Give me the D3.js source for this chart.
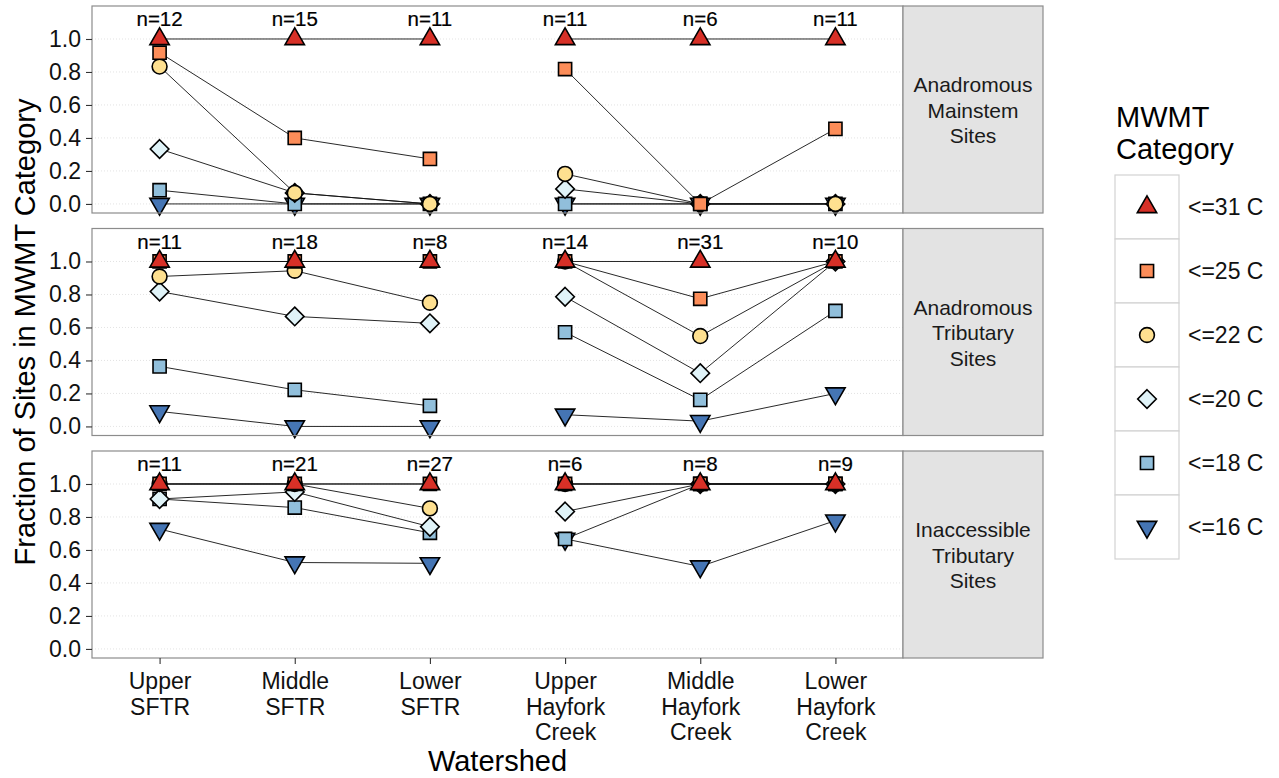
<!DOCTYPE html>
<html>
<head>
<meta charset="utf-8">
<script src="https://cdn.jsdelivr.net/npm/d3@7"></script>
<style>
  html, body { margin: 0; padding: 0; background: #fff; }
  svg { display: block; font-family: "Liberation Sans", Arial, Helvetica, sans-serif; }
</style>
</head>
<body>
<svg id="chart" width="1279" height="778"></svg>
<script>
// ---- data ----------------------------------------------------------------
const watersheds = ["Upper SFTR", "Middle SFTR", "Lower SFTR",
                    "Upper Hayfork Creek", "Middle Hayfork Creek", "Lower Hayfork Creek"];
const watershedLabels = [["Upper", "SFTR"], ["Middle", "SFTR"], ["Lower", "SFTR"],
                         ["Upper", "Hayfork", "Creek"], ["Middle", "Hayfork", "Creek"], ["Lower", "Hayfork", "Creek"]];
// watersheds joined by lines (river systems)
const riverGroups = [[0, 1, 2], [3, 4, 5]];

const categories = ["<=31 C", "<=25 C", "<=22 C", "<=20 C", "<=18 C", "<=16 C"];
const categoryColors = ["#D73027", "#FC8D59", "#FEE090", "#E0F3F8", "#91BFDB", "#4575B4"];
const categoryShapes = ["triangleUp", "square", "circle", "diamond", "square", "triangleDown"];

const panelNames = [["Anadromous", "Mainstem", "Sites"],
                    ["Anadromous", "Tributary", "Sites"],
                    ["Inaccessible", "Tributary", "Sites"]];

const yTicks = [0, 0.2, 0.4, 0.6, 0.8, 1.0];

// site counts per watershed
const mainstemN     = [12, 15, 11, 11, 6, 11];
const tributaryN    = [11, 18, 8, 14, 31, 10];
const inaccessibleN = [11, 21, 27, 6, 8, 9];

// fraction of sites in each MWMT category (rows follow `categories`)
const mainstemFractions = [
  [1, 1, 1, 1, 1, 1],
  [0.917, 0.400, 0.273, 0.818, 0, 0.455],
  [0.833, 0.067, 0, 0.182, 0, 0],
  [0.333, 0.067, 0, 0.091, 0, 0],
  [0.083, 0, 0, 0, 0, 0],
  [0, 0, 0, 0, 0, 0]
];
const tributaryFractions = [
  [1, 1, 1, 1, 1, 1],
  [1, 1, 1, 1, 0.774, 1],
  [0.909, 0.944, 0.750, 1, 0.548, 1],
  [0.818, 0.667, 0.625, 0.786, 0.323, 1],
  [0.364, 0.222, 0.125, 0.571, 0.161, 0.700],
  [0.091, 0, 0, 0.071, 0.032, 0.200]
];
const inaccessibleFractions = [
  [1, 1, 1, 1, 1, 1],
  [1, 1, 1, 1, 1, 1],
  [1, 1, 0.852, 1, 1, 1],
  [0.909, 0.952, 0.741, 0.833, 1, 1],
  [0.909, 0.857, 0.704, 0.667, 1, 1],
  [0.727, 0.524, 0.519, 0.667, 0.500, 0.778]
];

const panelFractions = [mainstemFractions, tributaryFractions, inaccessibleFractions];
const panelCounts = [mainstemN, tributaryN, inaccessibleN];
const countLabelLevel = 1.12;

// ---- layout --------------------------------------------------------------
const svg = d3.select("#chart");
const plotLeft = 92, plotRight = 903, stripRight = 1043;
const panelH = 207, panelStep = 222.5, firstTop = 6;
const borderColor = "#8c8c8c";
const font = "'Liberation Sans', Arial, Helvetica, sans-serif";

const x = d3.scalePoint().domain(watersheds).range([plotLeft, plotRight]).padding(0.5);

// marker geometry (R-style symbol proportions)
const R = 7.2;
function symbolPath(shape, cx, cy) {
  switch (shape) {
    case "circle": {
      const r = R * 1.03;
      return `M${cx - r},${cy}a${r},${r} 0 1,0 ${2 * r},0a${r},${r} 0 1,0 ${-2 * r},0Z`;
    }
    case "square": {
      const h = R * 0.886 * 1.03;
      return `M${cx - h},${cy - h}H${cx + h}V${cy + h}H${cx - h}Z`;
    }
    case "diamond": {
      const h = R * 1.253 * 1.03;
      return `M${cx},${cy - h}L${cx + h},${cy}L${cx},${cy + h}L${cx - h},${cy}Z`;
    }
    case "triangleUp": {
      const r = R * 1.555;
      const xc = r * Math.sqrt(3) / 2, yc = r / 2;
      return `M${cx},${cy - r}L${cx + xc},${cy + yc}L${cx - xc},${cy + yc}Z`;
    }
    case "triangleDown": {
      const r = R * 1.555;
      const xc = r * Math.sqrt(3) / 2, yc = r / 2;
      return `M${cx},${cy + r}L${cx + xc},${cy - yc}L${cx - xc},${cy - yc}Z`;
    }
  }
}

panelFractions.forEach((fractions, p) => {
  const top = firstTop + p * panelStep;
  const y = d3.scaleLinear().domain([-0.055, 1.2]).range([top + panelH, top]);
  const g = svg.append("g");

  // panel background
  g.append("rect").attr("x", plotLeft).attr("y", top)
    .attr("width", plotRight - plotLeft).attr("height", panelH).attr("fill", "#fff");

  // gridlines
  g.append("g").selectAll("line").data(yTicks).join("line")
    .attr("x1", plotLeft).attr("x2", plotRight)
    .attr("y1", d => y(d)).attr("y2", d => y(d))
    .attr("stroke", "#dcdcdc").attr("stroke-width", 0.8).attr("stroke-dasharray", "1,2");

  // connecting lines within each river system
  const line = d3.line().x(d => x(watersheds[d.i])).y(d => y(d.v));
  fractions.forEach((row, c) => {
    riverGroups.forEach(grp => {
      g.append("path")
        .attr("d", line(grp.map(i => ({ i, v: row[i] }))))
        .attr("fill", "none").attr("stroke", "#111").attr("stroke-width", 0.9);
    });
  });

  // points: warmest category drawn last
  for (let c = categories.length - 1; c >= 0; c--) {
    g.append("g").selectAll("path").data(fractions[c]).join("path")
      .attr("d", (v, i) => symbolPath(categoryShapes[c], x(watersheds[i]), y(v)))
      .attr("fill", categoryColors[c]).attr("stroke", "#000").attr("stroke-width", 1.6)
      .attr("stroke-linejoin", "miter");
  }

  // site counts
  g.append("g").selectAll("text").data(panelCounts[p]).join("text")
    .attr("x", (d, i) => x(watersheds[i])).attr("y", y(countLabelLevel)).attr("dy", "0.35em")
    .attr("text-anchor", "middle").attr("font-size", 20.5).attr("fill", "#000")
    .attr("stroke", "#000").attr("stroke-width", 0.2)
    .text(d => "n=" + d);

  // panel border
  g.append("rect").attr("x", plotLeft).attr("y", top)
    .attr("width", plotRight - plotLeft).attr("height", panelH)
    .attr("fill", "none").attr("stroke", borderColor).attr("stroke-width", 1.2);

  // strip
  g.append("rect").attr("x", plotRight).attr("y", top)
    .attr("width", stripRight - plotRight).attr("height", panelH)
    .attr("fill", "#e3e3e3").attr("stroke", borderColor).attr("stroke-width", 1.2);
  const sx = (plotRight + stripRight) / 2, sy = top + panelH / 2;
  g.append("text").attr("text-anchor", "middle").attr("font-size", 21).attr("fill", "#1a1a1a")
    .selectAll("tspan").data(panelNames[p]).join("tspan")
    .attr("x", sx).attr("y", (d, i) => sy + (i - 1) * 25.5 + 8)
    .text(d => d);

  // y axis
  const ya = g.append("g").attr("transform", `translate(${plotLeft},0)`)
    .call(d3.axisLeft(y).tickValues(yTicks).tickFormat(d3.format(".1f")).tickSize(6).tickPadding(5));
  ya.select(".domain").remove();
  ya.selectAll(".tick line").attr("stroke", "#333").attr("stroke-width", 1.1);
  ya.selectAll(".tick text").attr("font-size", 23).attr("font-family", font).attr("fill", "#111");

  // x axis on bottom panel
  if (p === panelFractions.length - 1) {
    const xa = g.append("g").attr("transform", `translate(0,${top + panelH})`)
      .call(d3.axisBottom(x).tickSize(6).tickFormat(""));
    xa.select(".domain").remove();
    xa.selectAll(".tick line").attr("stroke", "#333").attr("stroke-width", 1.1);
    xa.selectAll(".tick").each(function (d, i) {
      const t = d3.select(this).append("text").attr("text-anchor", "middle")
        .attr("font-size", 23).attr("font-family", font).attr("fill", "#111");
      t.selectAll("tspan").data(watershedLabels[i]).join("tspan")
        .attr("x", 0).attr("y", (s, k) => 31 + k * 25.5).text(s => s);
    });
  }
});

// axis titles
svg.append("text").attr("x", (plotLeft + plotRight) / 2).attr("y", 771)
  .attr("text-anchor", "middle").attr("font-size", 29).attr("fill", "#000").text("Watershed");
svg.append("text")
  .attr("transform", `translate(35,${firstTop + (2 * panelStep + panelH) / 2}) rotate(-90)`)
  .attr("text-anchor", "middle").attr("font-size", 29).attr("fill", "#000")
  .text("Fraction of Sites in MWMT Category");

// legend
const legend = svg.append("g");
legend.append("text").attr("font-size", 29).attr("fill", "#000")
  .selectAll("tspan").data(["MWMT", "Category"]).join("tspan")
  .attr("x", 1116).attr("y", (d, i) => 127 + i * 32).text(d => d);
const keyTop = 175, keyH = 64, keyX = 1115, keyW = 64;
categories.forEach((cat, c) => {
  const ky = keyTop + c * keyH;
  legend.append("rect").attr("x", keyX).attr("y", ky).attr("width", keyW).attr("height", keyH)
    .attr("fill", "#fff").attr("stroke", "#d2d2d2").attr("stroke-width", 1.2);
  legend.append("path").attr("d", symbolPath(categoryShapes[c], keyX + keyW / 2, ky + keyH / 2))
    .attr("fill", categoryColors[c]).attr("stroke", "#000").attr("stroke-width", 1.6);
  legend.append("text").attr("x", 1188).attr("y", ky + keyH / 2).attr("dy", "0.35em")
    .attr("font-size", 23).attr("fill", "#111").text(cat);
});
</script>
</body>
</html>
